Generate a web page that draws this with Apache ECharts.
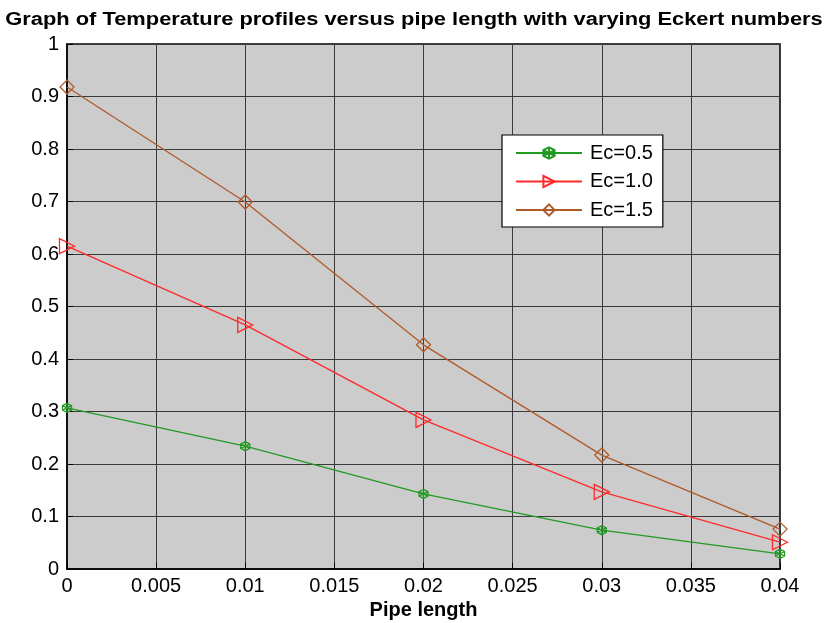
<!DOCTYPE html>
<html><head><meta charset="utf-8">
<script src="https://cdn.jsdelivr.net/npm/echarts@6/dist/echarts.min.js"></script>
<style>html,body{margin:0;padding:0;background:#fff}#c{width:829px;height:623px}</style>
</head><body><div id="c"></div>
<script>
const xValues = [0, 0.01, 0.02, 0.03, 0.04];
const ec05 = [0.307, 0.234, 0.143, 0.074, 0.029];
const ec10 = [0.615, 0.465, 0.284, 0.147, 0.051];
const ec15 = [0.918, 0.699, 0.427, 0.217, 0.076];
const seriesNames = ['Ec=0.5', 'Ec=1.0', 'Ec=1.5'];
const titleText = 'Graph of Temperature profiles versus pipe length with varying Eckert numbers';
const font = '"Liberation Sans", Arial, sans-serif';
const hex = 'path://M0,-10 L8.66,-5 L8.66,5 L0,10 L-8.66,5 L-8.66,-5 Z M0,-10 L0,10 M-8.66,-5 L8.66,5 M-8.66,5 L8.66,-5';
function mk(name, data, color, symbol, size, rot) {
  return {
    name, type: 'line', data: xValues.map((x, i) => [x, data[i]]),
    symbol, symbolSize: size, symbolRotate: rot || 0, showSymbol: true,
    lineStyle: { color, width: 1.3 },
    itemStyle: { color: 'rgba(0,0,0,0)', borderColor: color, borderWidth: 1.3 },
    emphasis: { disabled: true }, animation: false
  };
}
const chart = echarts.init(document.getElementById('c'));
chart.setOption({
  animation: false,
  graphic: [{
    type: 'text', x: 414, y: 20, scaleX: 1.215, silent: true,
    style: { text: titleText, font: 'bold 18px ' + font, fill: '#000', textAlign: 'center', textVerticalAlign: 'middle' }
  }],
  grid: { left: 67, right: 49, top: 44, bottom: 54, outerBoundsMode: 'none', containLabel: false,
    show: true, backgroundColor: '#cccccc', borderColor: '#000', borderWidth: 1.5 },
  legend: {
    show: true, left: 502, top: 135, orient: 'vertical',
    backgroundColor: '#fff', borderColor: '#000', borderWidth: 1.2,
    padding: [8, 10, 7, 13], itemGap: 8.5, itemWidth: 66, itemHeight: 14,
    textStyle: { fontFamily: font, fontSize: 20, lineHeight: 20, color: '#000', padding: [0, 0, 0, 3] },
    data: seriesNames
  },
  xAxis: {
    type: 'value', min: 0, max: 0.04, interval: 0.005,
    name: 'Pipe length', nameLocation: 'middle', nameGap: 31,
    nameTextStyle: { fontFamily: font, fontSize: 20, fontWeight: 'bold', color: '#000' },
    axisLine: { show: true, lineStyle: { color: '#000', width: 1.5 } },
    axisTick: { show: true, inside: true, length: 6, lineStyle: { color: '#000' } },
    axisLabel: { fontFamily: font, fontSize: 20, color: '#000', margin: 7, formatter: v => String(+v.toFixed(3)) },
    splitLine: { show: true, lineStyle: { color: '#3a3a3a', width: 1 } }
  },
  yAxis: {
    type: 'value', min: 0, max: 1, interval: 0.1,
    axisLine: { show: true, lineStyle: { color: '#000', width: 1.5 } },
    axisTick: { show: true, inside: true, length: 6, lineStyle: { color: '#000' } },
    axisLabel: { fontFamily: font, fontSize: 20, color: '#000', margin: 8, formatter: v => String(+v.toFixed(1)) },
    splitLine: { show: true, lineStyle: { color: '#3a3a3a', width: 1 } }
  },
  series: [
    mk(seriesNames[0], ec05, '#229a22', hex, 9),
    mk(seriesNames[1], ec10, '#ff2a2a', 'triangle', 15, -90),
    mk(seriesNames[2], ec15, '#b05a2a', 'diamond', 14)
  ]
});
</script></body></html>
